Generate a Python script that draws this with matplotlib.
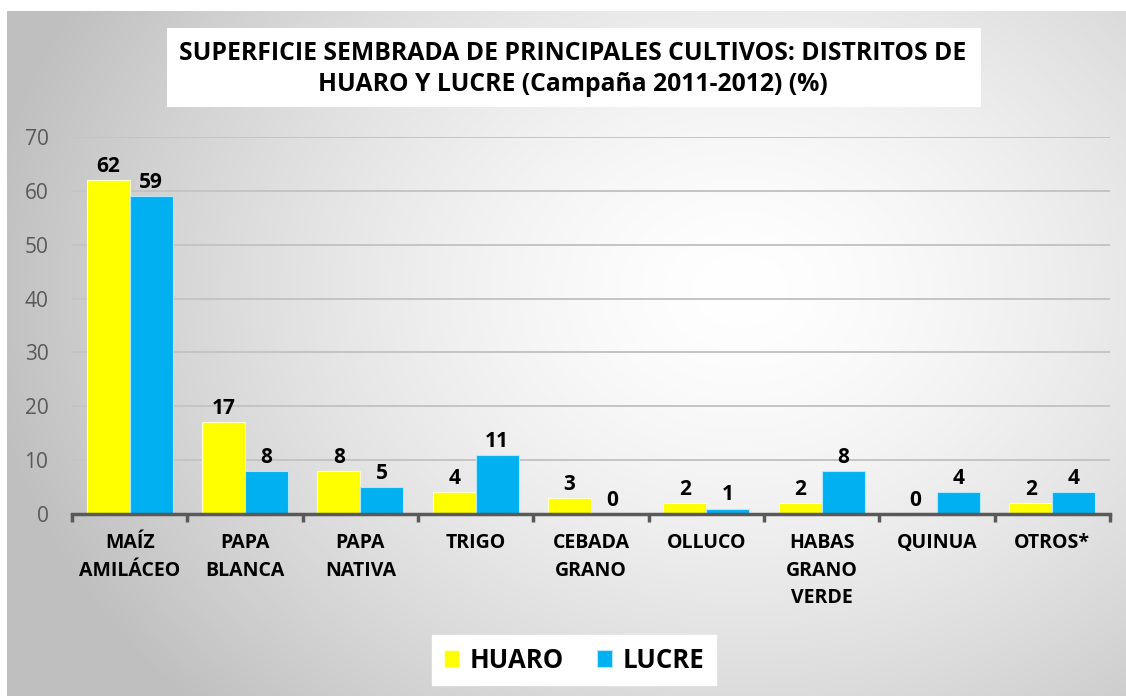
import matplotlib
matplotlib.use("Agg")
import matplotlib.pyplot as plt
import numpy as np
from matplotlib.patches import Rectangle

plt.rcParams['font.family'] = ['Open Sans', 'DejaVu Sans']

# data
categories = ["MAÍZ\nAMILÁCEO", "PAPA\nBLANCA", "PAPA\nNATIVA", "TRIGO", "CEBADA\nGRANO",
              "OLLUCO", "HABAS\nGRANO\nVERDE", "QUINUA", "OTROS*"]
huaro = [62, 17, 8, 4, 3, 2, 2, 0, 2]
lucre = [59, 8, 5, 11, 0, 1, 8, 4, 4]
series_names = ["HUARO", "LUCRE"]
colors = ["#FFFF00", "#00B0F0"]
title = "SUPERFICIE SEMBRADA DE PRINCIPALES CULTIVOS: DISTRITOS DE\nHUARO Y LUCRE (Campaña 2011-2012) (%)"

W, H = 1126, 696
fig = plt.figure(figsize=(W / 100, H / 100), dpi=100)

# background with radial gradient (chart area starts at x=7, y=11 px)
bg = fig.add_axes([0, 0, 1, 1])
bg.set_xlim(0, W)
bg.set_ylim(H, 0)
bg.axis("off")
yy, xx = np.mgrid[11:H, 7:W]
d = np.sqrt(((xx - 740) / 760.0) ** 2 + ((yy - 290) / 600.0) ** 2)
d = np.clip(d, 0, 1)
val = 1.0 - 0.25 * d ** 1.5
img = np.dstack([val, val, val])
bg.imshow(img, extent=(7, W, H, 11), aspect="auto", interpolation="bilinear")

# title box
bg.add_patch(Rectangle((167, 28), 981 - 167, 107 - 28, facecolor="white", edgecolor="none"))
bg.text(573, 69, title, ha="center", va="center", fontsize=17.8, fontweight="bold",
        color="black", linespacing=1.3)

# main axes
left, right = 72 / W, 1110 / W
bottom, top = 1 - 514 / H, 1 - 137 / H
ax = fig.add_axes([left, bottom, right - left, top - bottom])
ax.patch.set_alpha(0)

x = np.arange(len(categories))
bw = 0.373
b1 = ax.bar(x - bw / 2, huaro, bw, color=colors[0], edgecolor="#ffffcc", linewidth=0.8,
            label=series_names[0], zorder=3)
b2 = ax.bar(x + bw / 2, lucre, bw, color=colors[1], edgecolor="#b3e7fa", linewidth=0.8,
            label=series_names[1], zorder=3)

for bars, vals in ((b1, huaro), (b2, lucre)):
    for r, v in zip(bars, vals):
        ax.text(r.get_x() + r.get_width() / 2, v + 0.6, str(v), ha="center", va="bottom",
                fontsize=15, fontweight="bold", color="black")

ax.set_xlim(-0.5, len(categories) - 0.5)
ax.set_ylim(0, 70)
ax.set_yticks(range(0, 71, 10))
ax.yaxis.grid(True, color="#c4c4c4", linewidth=1.4, zorder=0)
ax.set_axisbelow(True)

for s in ["top", "right", "left"]:
    ax.spines[s].set_visible(False)
ax.spines["bottom"].set_color("#595959")
ax.spines["bottom"].set_linewidth(2.5)
ax.spines["bottom"].set_zorder(4)

ax.tick_params(axis="y", length=0, labelsize=15, labelcolor="#595959", pad=17)
ax.set_xticks(x)
ax.set_xticklabels(categories, fontsize=14, fontweight="bold", color="black",
                   linespacing=1.5, va="top")
ax.tick_params(axis="x", which="major", length=0, pad=14)
ax.set_xticks(np.arange(-0.5, len(categories)), minor=True)
ax.tick_params(axis="x", which="minor", length=6, width=2.5, color="#595959", direction="out")

leg = fig.legend(handles=[b1, b2], labels=series_names, loc="center",
                 bbox_to_anchor=(574 / W, 1 - 660 / H), ncol=2, frameon=True,
                 fancybox=False, prop={"weight": "bold", "size": 18.5},
                 handlelength=0.6, handleheight=0.6, handletextpad=0.4,
                 columnspacing=1.3, borderpad=0.45)
leg.get_frame().set_edgecolor("white")
leg.get_frame().set_facecolor("white")
leg.get_frame().set_alpha(1)

fig.savefig("out.png", dpi=100)
